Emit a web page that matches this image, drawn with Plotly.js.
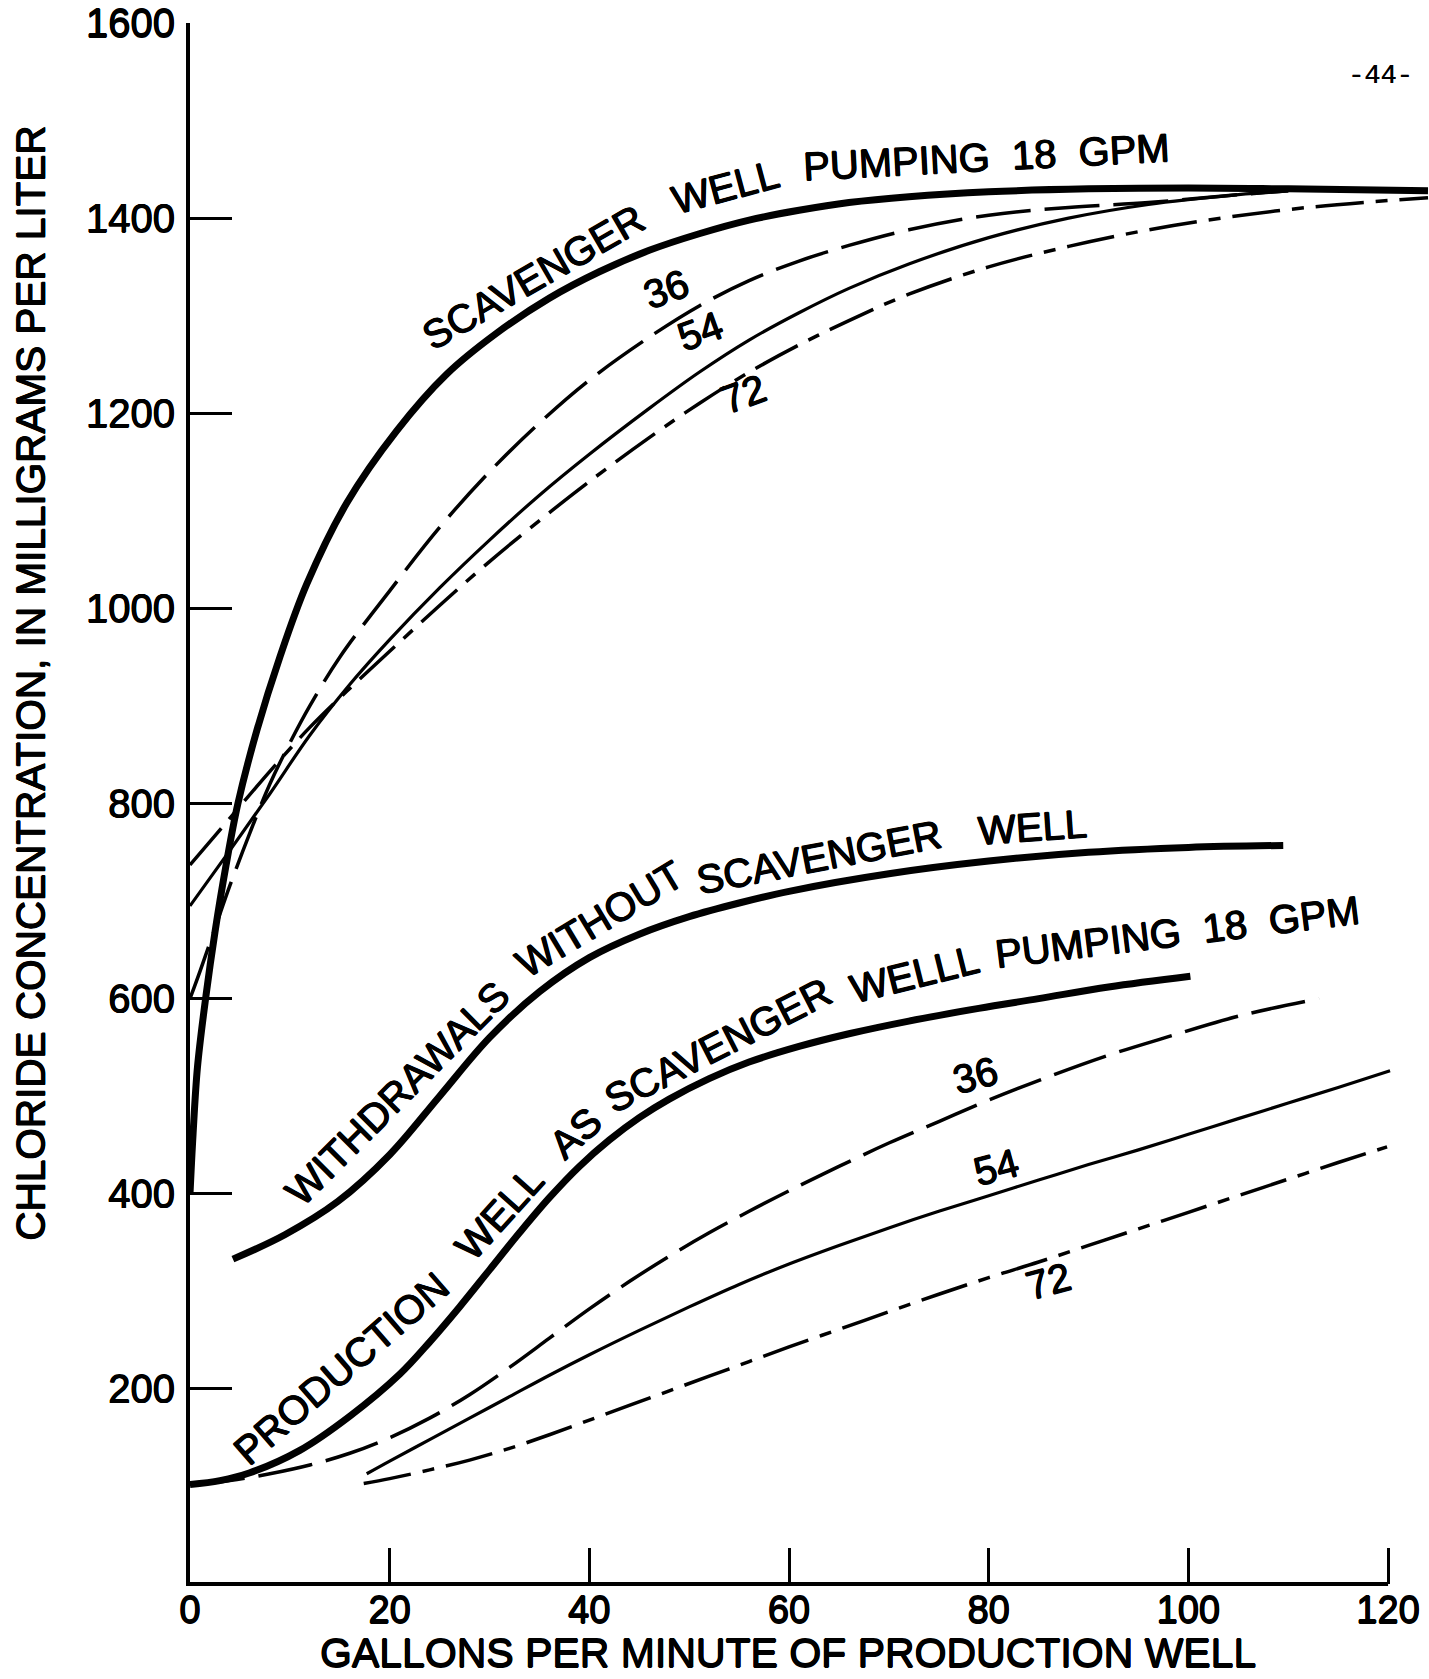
<!DOCTYPE html>
<html>
<head>
<meta charset="utf-8">
<script src="https://cdn.plot.ly/plotly-3.0.1.min.js"></script>
<style>
html,body{margin:0;padding:0;background:#ffffff;}
#chart{width:1429px;height:1679px;}
</style>
</head>
<body>
<div id="chart"></div>
<script>
// ---------------- DATA ----------------
// x: gallons per minute of production well; y: chloride concentration, mg/L

// Upper group: chloride in the scavenger well
const scavWell18X = [0,0.3,0.75,1.6,2.5,3.6,4.8,6.7,9,11.7,15.7,20.7,25.7,30.7,36,41,46,51,56,61,66,72,80,90,100,110,124];
const scavWell18Y = [400,460,530,603,668,736,800,875,950,1025,1108,1182,1240,1282,1318,1345,1367,1384,1398,1408,1416,1422,1427,1430,1431,1430,1428];

const scavWell36X = [0,1,2.5,4,6,8,10,12,15,20,25,30,35,40,46,51,56,61,66,72,80,88,96,105,110];
const scavWell36Y = [600,628,672,716,770,820,862,900,950,1018,1083,1140,1190,1234,1278,1310,1336,1356,1372,1388,1403,1411,1416,1424,1428];

const scavWell54X = [0,4,8,12,16,20,25,30,35,40,46,51,56,61,66,72,80,88,96,105,110];
const scavWell54Y = [695,752,810,870,922,968,1021,1070,1116,1158,1205,1242,1275,1303,1328,1353,1380,1400,1414,1424,1428];

const scavWell72X = [0,4,8,12,16,20,25,30,35,40,46,51,56,61,66,72,80,88,96,104,112,120,124];
const scavWell72Y = [737,785,833,878,918,956,1003,1048,1090,1130,1175,1210,1242,1270,1295,1322,1350,1371,1388,1401,1411,1418,1421];

// Lower group: chloride in the production well
const noScavX = [4.3,9.5,14.8,20,25,30,35,40,45,50,55,60,70,80,90,100,109.5];
const noScavY = [333,358,392,440,500,560,607,642,666,684,698,710,728,741,750,755,757];

const prod18X = [0,3,6,11,16,21,24,27,30,33,36,39,42,45,48,52,56,61,66,72,79,85,92,100.2];
const prod18Y = [102,106,114,137,172,215,248,284,322,360,396,428,455,478,497,518,535,551,564,577,590,600,612,623];

const prod36X = [0,4,8,12,16,20,24,28,32,36,40,44,48,52,56,60,65,70,75,80,86,92,98,105,113.1];
const prod36Y = [102,106,113,122,134,150,170,194,222,252,282,310,336,360,382,403,428,452,474,496,520,542,561,582,600];

const prod54X = [17.7,20,24,28,32,36,40,45,50,55,60,65,70,75,80,85,90,95,100,105,110,115,120.2];
const prod54Y = [113,126,148,170,192,214,235,260,284,307,328,347,365,382,398,414,430,445,461,477,493,509,526];

const prod72X = [17.4,20,24,28,32,36,40,44,48,52,56,60,65,70,75,80,85,90,95,100,105,110,115,119.9];
const prod72Y = [103,108,117,127,139,153,168,183,198,213,228,243,261,279,297,314,330,347,364,381,398,415,432,448];

// Tick labels
const xTickVals = [0,20,40,60,80,100,120];
const xTickText = ['0','20','40','60','80','100','120'];
const yTickVals = [200,400,600,800,1000,1200,1400,1600];
const yTickText = ['200','400','600','800','1000','1200','1400','1600'];

// ---------------- STYLE ----------------
const FONT = '"Liberation Sans", Arial, Helvetica, sans-serif';
const INK = '#000000';
const HEAVY = '0.6px 0 0 #000, -0.6px 0 0 #000, 0 0.6px 0 #000, 0 -0.6px 0 #000';
const DASH36 = '55px,14px';
const DASH72 = '48px,12px,12px,12px';

function curve(x, y, width, dash) {
  return {
    type: 'scatter', mode: 'lines', x: x, y: y,
    line: {color: INK, width: width, dash: dash, shape: 'spline', smoothing: 1},
    hoverinfo: 'skip', showlegend: false
  };
}

const traces = [
  curve(scavWell18X, scavWell18Y, 7, 'solid'),
  curve(scavWell36X, scavWell36Y, 3.5, DASH36),
  curve(scavWell54X, scavWell54Y, 3.2, 'solid'),
  curve(scavWell72X, scavWell72Y, 3.5, DASH72),
  curve(noScavX, noScavY, 7, 'solid'),
  curve(prod18X, prod18Y, 7, 'solid'),
  curve(prod36X, prod36Y, 3.5, DASH36),
  curve(prod54X, prod54Y, 3.2, 'solid'),
  curve(prod72X, prod72Y, 3.5, DASH72)
];

function label(text, x, y, angle, size) {
  return {
    text: text, x: x, y: y, xref: 'x', yref: 'y',
    showarrow: false, textangle: angle,
    xanchor: 'center', yanchor: 'middle',
    font: {family: FONT, size: size || 40, color: INK, shadow: HEAVY}
  };
}

const XMAX = 124.1;

const annotations = [
  // upper group
  label('SCAVENGER', 34.4, 1340, -30),
  label('WELL', 53.6, 1432, -15),
  label('PUMPING  18  GPM', 79.8, 1463, -3),
  label('36', 47.7, 1327, -20),
  label('54', 51.1, 1284, -20),
  label('72', 55.4, 1220, -20),
  // withdrawals without scavenger well
  label('WITHDRAWALS', 20.8, 503, -45),
  label('WITHOUT', 41, 682, -31),
  label('SCAVENGER', 63, 745, -11),
  label('WELL', 84.4, 776, -4),
  // production well as scavenger well pumping 18 gpm
  label('PRODUCTION', 15.2, 221, -41),
  label('WELL', 31.0, 380, -48),
  label('AS', 38.6, 462, -42),
  label('SCAVENGER', 52.9, 552, -27),
  label('WELLL', 72.6, 625, -14),
  label('PUMPING  18  GPM', 98.9, 668, -7),
  label('36', 78.7, 522, -15),
  label('54', 80.8, 427, -15),
  label('72', 86, 311, -15),
  // axis titles
  {text: 'GALLONS PER MINUTE OF PRODUCTION WELL', x: 59.9, y: -0.0445, xref: 'x', yref: 'paper',
   showarrow: false, xanchor: 'center', yanchor: 'middle', font: {family: FONT, size: 41, color: INK, shadow: HEAVY}},
  {text: 'CHLORIDE CONCENTRATION, IN MILLIGRAMS PER LITER', x: -0.129, y: 923, xref: 'paper', yref: 'y',
   showarrow: false, textangle: -90, xanchor: 'center', yanchor: 'middle', font: {family: FONT, size: 40.5, color: INK, shadow: HEAVY}},
  // page number
  {text: '-44-', x: 1192 / (XMAX * 10), y: 0.966, xref: 'paper', yref: 'paper', showarrow: false,
   xanchor: 'center', yanchor: 'middle', font: {family: '"Liberation Mono", "DejaVu Sans Mono", monospace', size: 27, color: INK, shadow: '0.4px 0 0 #000'}}
];

const layout = {
  width: 1429, height: 1679,
  margin: {l: 190, r: 0, t: 23, b: 95, pad: 0, autoexpand: false},
  paper_bgcolor: '#ffffff', plot_bgcolor: '#ffffff',
  showlegend: false,
  xaxis: {
    range: [0, XMAX], showgrid: false, zeroline: false, showline: false,
    tickmode: 'array', tickvals: xTickVals, ticktext: xTickText,
    ticks: 'inside', ticklen: 36, tickwidth: 3, tickcolor: INK,
    ticklabelstandoff: 0,
    tickfont: {family: FONT, size: 38, color: INK, shadow: HEAVY}
  },
  yaxis: {
    range: [0, 1600], showgrid: false, zeroline: false,
    showline: true, linewidth: 4, linecolor: INK,
    tickmode: 'array', tickvals: yTickVals, ticktext: yTickText,
    ticks: 'inside', ticklen: 42, tickwidth: 3, tickcolor: INK,
    ticklabelstandoff: 3,
    tickfont: {family: FONT, size: 40, color: INK, shadow: HEAVY}
  },
  shapes: [
    {type: 'line', xref: 'paper', yref: 'paper', x0: -4/1239, x1: 120/XMAX, y0: 0, y1: 0,
     line: {color: INK, width: 4}, layer: 'above'}
  ],
  annotations: annotations
};

Plotly.newPlot('chart', traces, layout, {staticPlot: true, displayModeBar: false});
</script>
</body>
</html>
